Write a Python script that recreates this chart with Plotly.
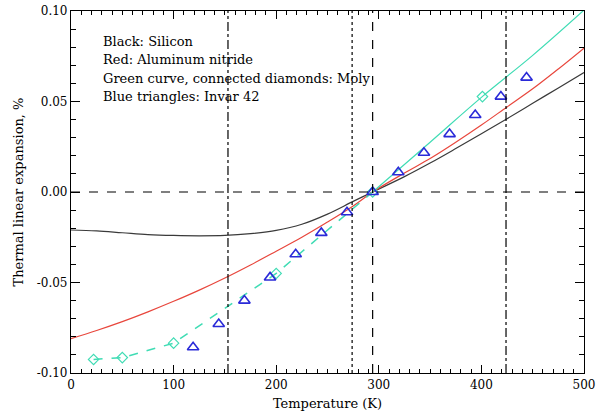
import plotly.graph_objects as go

# ---- data ----
temp_grid = [0, 25, 50, 75, 100, 125, 150, 175, 200, 225, 250, 275, 294,
             325, 350, 375, 400, 425, 450, 475, 500]
silicon = [-0.021, -0.0215, -0.0225, -0.0235, -0.024, -0.0242, -0.024, -0.023,
           -0.0212, -0.0178, -0.0122, -0.0052, 0.0,
           0.0085, 0.0160, 0.0240, 0.0322, 0.0405, 0.0490, 0.0575, 0.0660]
aln = [-0.081, -0.0765, -0.0716, -0.0662, -0.0604, -0.0542, -0.0475, -0.0403,
       -0.0327, -0.0250, -0.0166, -0.0077, 0.0,
       0.0105, 0.0185, 0.0275, 0.0370, 0.0470, 0.0570, 0.0680, 0.0795]

moly_diamond_t = [22, 50, 100, 200, 294]
moly_diamond_v = [-0.0925, -0.0915, -0.0835, -0.045, 0.0]
moly_curve_t = [294, 350, 400, 450, 500]
moly_curve_v = [0.0, 0.0275, 0.0523, 0.0755, 0.1005]
moly_marker_t = [401]
moly_marker_v = [0.0527]

invar_t = [119, 144, 169, 194, 219, 244, 269, 294, 319, 344, 369, 394, 419, 444]
invar_v = [-0.0858, -0.0729, -0.0600, -0.0472, -0.0344, -0.0226, -0.0112, 0.0,
           0.0109, 0.0217, 0.0320, 0.0425, 0.0527, 0.0632]

ref_lines_t = [153, 274, 294, 424]
ref_lines_dash = ["dashdot", "dot", "dash", "dashdot"]

y_tickvals = [-0.10, -0.05, 0.00, 0.05, 0.10]
y_ticktext = ["-0.10", "-0.05", "0.00", "0.05", "0.10"]
x_tickvals = [0, 100, 200, 300, 400, 500]

notes = ["Black: Silicon", "Red: Aluminum nitride",
         "Green curve, connected diamonds: Moly", "Blue triangles: Invar 42"]

GREEN = "#3fdcb4"
BLUE = "#2a2ad8"
RED = "#e8463c"
BLACK = "#3a3a3a"
FONT = "DejaVu Serif"

fig = go.Figure()

fig.add_trace(go.Scatter(x=temp_grid, y=silicon, mode="lines",
                         line=dict(color=BLACK, width=1.2), line_shape="spline"))
fig.add_trace(go.Scatter(x=temp_grid, y=aln, mode="lines",
                         line=dict(color=RED, width=1.2), line_shape="spline"))
fig.add_trace(go.Scatter(x=moly_diamond_t, y=moly_diamond_v, mode="lines+markers",
                         line=dict(color=GREEN, width=1.5, dash="dash"),
                         marker=dict(symbol="diamond-open", size=8,
                                     color=GREEN, line=dict(width=1.2))))
fig.add_trace(go.Scatter(x=moly_curve_t, y=moly_curve_v, mode="lines",
                         line=dict(color=GREEN, width=1.2), line_shape="spline"))
fig.add_trace(go.Scatter(x=moly_marker_t, y=moly_marker_v, mode="markers",
                         marker=dict(symbol="diamond-open", size=8,
                                     color=GREEN, line=dict(width=1.2))))
fig.add_trace(go.Scatter(x=invar_t, y=invar_v, mode="markers",
                         marker=dict(symbol="triangle-up-open", size=10,
                                     color=BLUE, line=dict(width=1.6))))

shapes = []
for t, d in zip(ref_lines_t, ref_lines_dash):
    shapes.append(dict(type="line", xref="x", yref="paper", x0=t, x1=t,
                       y0=0, y1=1, line=dict(color="black", width=1.2, dash=d)))
shapes.append(dict(type="line", xref="paper", yref="y", x0=0, x1=1, y0=0, y1=0,
                   line=dict(color="black", width=1.2, dash="dash")))

note_y = [0.915, 0.865, 0.813, 0.764]
annotations = [dict(text=s, xref="paper", yref="paper", x=0.058, y=yy,
                    xanchor="left", yanchor="middle", showarrow=False,
                    font=dict(family=FONT, size=13, color="black"))
               for s, yy in zip(notes, note_y)]

axis_common = dict(showline=True, linecolor="black", linewidth=1.2, mirror="ticks",
                   ticks="inside", tickcolor="black", showgrid=False, zeroline=False,
                   automargin=False,
                   tickfont=dict(family=FONT, size=12, color="black"))

fig.update_layout(
    width=596, height=412,
    margin=dict(l=71, r=12, t=11, b=39),
    paper_bgcolor="white", plot_bgcolor="white",
    showlegend=False,
    shapes=shapes, annotations=annotations,
    xaxis=dict(range=[0, 500], tickvals=x_tickvals, ticklen=8,
               minor=dict(dtick=10, ticklen=4, ticks="inside", tickcolor="black"),
               title=dict(text="Temperature (K)", standoff=8,
                          font=dict(family=FONT, size=13, color="black")),
               **axis_common),
    yaxis=dict(range=[-0.10, 0.10], tickvals=y_tickvals, ticktext=y_ticktext,
               ticklen=9,
               minor=dict(dtick=0.01, ticklen=5, ticks="inside", tickcolor="black"),
               title=dict(text="Thermal linear expansion, %", standoff=10,
                          font=dict(family=FONT, size=13, color="black")),
               **axis_common),
)

fig.write_html("out.html", config={"displayModeBar": False},
               post_script="document.body.style.margin='0';document.body.style.overflow='hidden';")
